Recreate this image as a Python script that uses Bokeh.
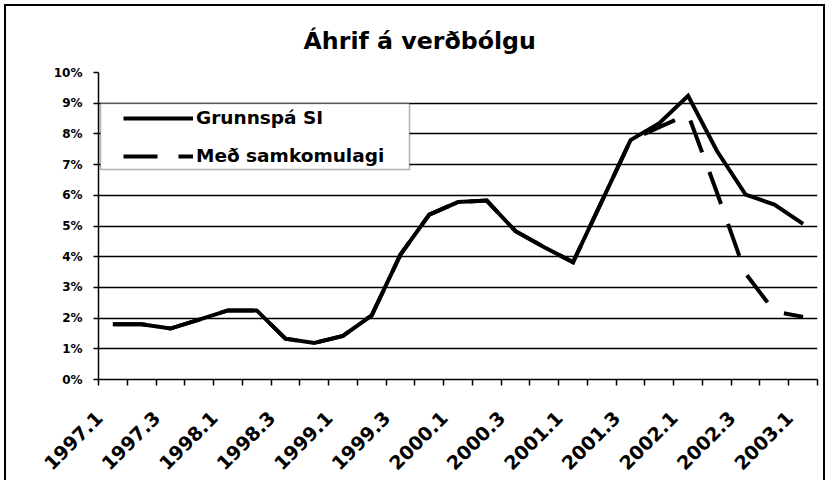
import math
from bokeh.plotting import figure
from bokeh.models import (FixedTicker, Legend, LegendItem, BoxAnnotation, Title,
                          ColumnDataSource, Range1d)
from bokeh.embed import file_html
from bokeh.resources import INLINE

# ---- data ----
quarters = ["1997.1", "1997.2", "1997.3", "1997.4",
            "1998.1", "1998.2", "1998.3", "1998.4",
            "1999.1", "1999.2", "1999.3", "1999.4",
            "2000.1", "2000.2", "2000.3", "2000.4",
            "2001.1", "2001.2", "2001.3", "2001.4",
            "2002.1", "2002.2", "2002.3", "2002.4",
            "2003.1"]
grunnspa = [1.80, 1.80, 1.66, 1.95, 2.25, 2.25, 1.33, 1.19, 1.42, 2.09,
            4.07, 5.37, 5.78, 5.83, 4.83, 4.31, 3.82, 5.80, 7.80, 8.35,
            9.24, 7.45, 6.02, 5.70, 5.07]
samkomulag = [1.80, 1.80, 1.66, 1.95, 2.25, 2.25, 1.33, 1.19, 1.42, 2.09,
              4.07, 5.37, 5.78, 5.83, 4.83, 4.31, 3.82, 5.80, 7.80, 8.22,
              8.64, 6.10, 3.45, 2.22, 2.04]
series_names = ["Grunnspá SI", "Með samkomulagi"]
y_ticks = [0, 1, 2, 3, 4, 5, 6, 7, 8, 9, 10]
y_tick_labels = [f"{v}%" for v in y_ticks]
title_text = "Áhrif á verðbólgu"

idx = list(range(len(quarters)))
src = ColumnDataSource(dict(x=idx, a=grunnspa, b=samkomulag))

FONT = "DejaVu Sans"
LABEL_SHIFT = 0.48  # horizontal shift of rotated labels, in category widths

p = figure(width=821, height=476, output_backend="svg", toolbar_location=None,
           x_range=Range1d(-0.5, len(quarters) - 0.5), y_range=Range1d(0, 10),
           min_border_left=92, min_border_right=10, min_border_top=66,
           min_border_bottom=103)
p.styles = {"border-top": "2px solid black", "border-left": "2px solid black",
            "border-right": "2px solid black",
            "margin-left": "4px", "margin-top": "4px"}
p.outline_line_color = None
p.background_fill_color = "white"
p.border_fill_color = "white"

t = Title(text=title_text, align="left", text_font=FONT, text_font_size="23.7px",
          text_font_style="bold", text_color="black", standoff=35.5, offset=205)
p.add_layout(t, "above")

# lines
r_b = p.line("x", "b", source=src, line_color="black", line_width=4,
             line_dash="34 21", line_join="miter")
r_a = p.line("x", "a", source=src, line_color="black", line_width=4,
             line_join="miter")

# grid
p.xgrid.visible = False
p.ygrid.ticker = FixedTicker(ticks=y_ticks)
p.ygrid.grid_line_color = "black"
p.ygrid.grid_line_width = 1.3

# y axis
ya = p.yaxis[0]
ya.ticker = FixedTicker(ticks=y_ticks)
ya.major_label_overrides = {v: s for v, s in zip(y_ticks, y_tick_labels)}
ya.major_label_text_font = FONT
ya.major_label_text_font_style = "bold"
ya.major_label_text_font_size = "12px"
ya.major_label_text_color = "black"
ya.major_tick_out = 5
ya.major_tick_in = 0
ya.minor_tick_out = 0
ya.minor_tick_in = 0
ya.axis_line_color = "black"
ya.axis_line_width = 1.5
ya.major_tick_line_width = 1.5
ya.major_label_standoff = 11

# x axis
label_pos = [round(i - LABEL_SHIFT, 2) for i in idx[::2]]
xa = p.xaxis[0]
xa.ticker = FixedTicker(ticks=label_pos,
                        minor_ticks=[i - 0.5 for i in range(len(quarters) + 1)])
xa.major_label_overrides = {pos: quarters[i] for pos, i in zip(label_pos, idx[::2])}
xa.major_label_orientation = math.pi / 4
xa.major_label_text_font = FONT
xa.major_label_text_font_style = "bold"
xa.major_label_text_font_size = "19px"
xa.major_label_text_color = "black"
xa.major_tick_out = 0
xa.major_tick_in = 0
xa.minor_tick_out = 6
xa.minor_tick_in = 0
xa.minor_tick_line_color = "black"
xa.minor_tick_line_width = 1.5
xa.axis_line_color = "black"
xa.axis_line_width = 1.5
xa.major_label_standoff = 29

# legend box (white background with border)
box = BoxAnnotation(left=2, right=311, top=276, bottom=210,
                    left_units="screen", right_units="screen",
                    top_units="screen", bottom_units="screen",
                    fill_color="white", fill_alpha=1.0,
                    line_color="black", line_width=1.5)
p.add_layout(box)

legend = Legend(items=[LegendItem(label=series_names[0], renderers=[r_a]),
                       LegendItem(label=series_names[1], renderers=[r_b])],
                location=(21, 209), orientation="vertical",
                border_line_alpha=0, background_fill_alpha=0,
                label_text_font=FONT, label_text_font_style="bold",
                label_text_font_size="18.5px", label_text_color="black",
                glyph_width=70, glyph_height=20, spacing=17, padding=4,
                label_standoff=3, margin=0)
p.add_layout(legend)

open("out.html", "w").write(file_html(p, INLINE))
